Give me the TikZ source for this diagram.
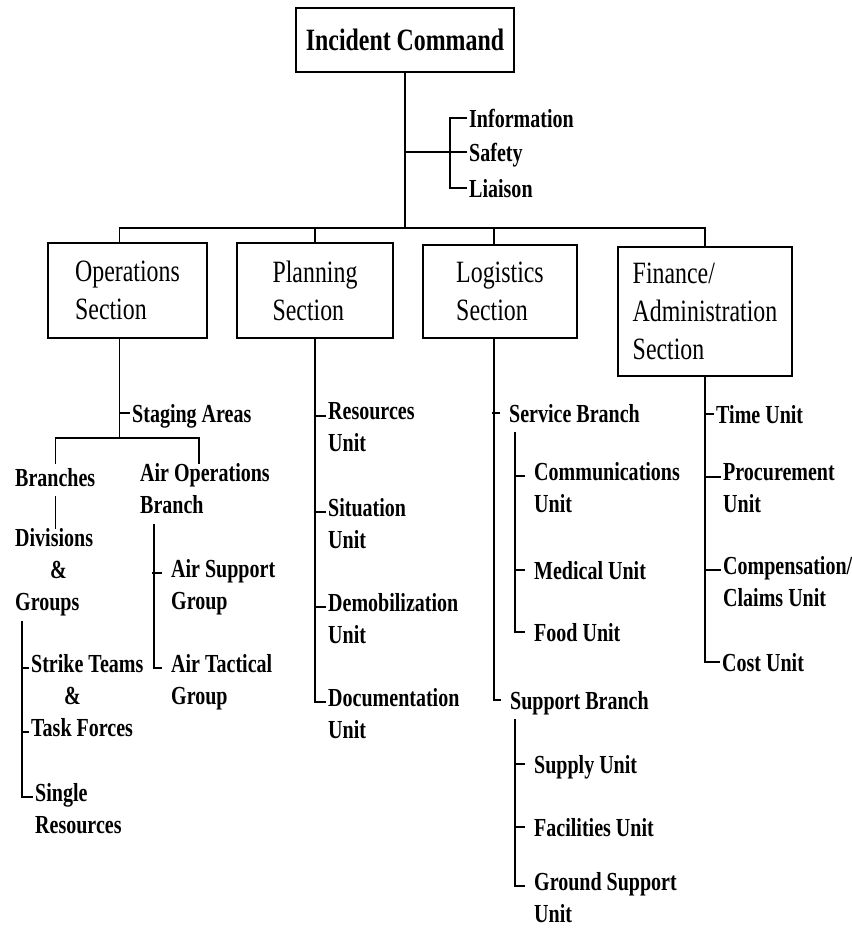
\documentclass[tikz,border=0pt]{standalone}
\usepackage{fontspec}
\setmainfont{Liberation Serif}[FakeStretch=0.77]
\usepackage{tikz}

% tick point at the middle of a label's first line
\newcommand{\tk}[1]{([yshift=-13.4pt]#1.north west)}

\tikzset{
  con/.style={line width=1.4pt},
  sect/.style={draw, line width=2pt, inner sep=0pt, align=left,
    font=\fontsize{31}{38}\selectfont},
  lbl/.style={anchor=north west, inner xsep=2pt, inner ysep=0pt,
    xshift=-2pt, yshift=13.4pt, align=left,
    font=\fontsize{26}{32}\selectfont\bfseries,
    execute at begin node=\strut, execute at end node=\strut},
  glbl/.style={lbl, inner xsep=9pt, xshift=-9pt}
}

\begin{document}
\begin{tikzpicture}[x=1pt, y=-1pt]
\useasboundingbox (0,0) rectangle (851,936);

% command
\node[sect, font=\fontsize{31}{38}\selectfont\bfseries, minimum width=218pt,
  minimum height=64pt] (ic) at (405,40) {Incident Command};
\coordinate (bus) at (405,228);
\draw[con] (ic.south) -- (bus);

% staff
\node[lbl] (info) at (469,118) {Information};
\node[lbl] (safe) at (469,152) {Safety};
\node[lbl] (liai) at (469,188) {Liaison};
\draw[line width=2pt] \tk{info} -- ++(-17,0) |- \tk{liai};
\draw[con] \tk{safe} -| (ic.south);

% sections
\node[sect, minimum width=159pt, minimum height=95pt] (ops) at (127.5,290.5) {Operations\\Section};
\node[sect, minimum width=156pt, minimum height=95pt] (plan) at (315,290.5) {Planning\\Section};
\node[sect, minimum width=154pt, minimum height=93pt] (log) at (500,291.5) {Logistics\\Section};
\node[sect, minimum width=174pt, minimum height=129pt] (fin) at (705,311.5) {Finance/\\Administration\\Section};
\draw[con] ([xshift=-8pt]ops.north) |- (bus) -| (fin.north);
\draw[con] (plan.north) |- (bus);
\draw[con] ([xshift=-6pt]log.north) |- (bus);

% operations
\node[lbl] (stag) at (132,413) {Staging Areas};
\node[lbl] (brn) at (15,477) {Branches};
\node[lbl] (aob) at (140,477) {Air Operations\\Branch};
\node[lbl] (div) at (15,542) {Divisions\\\hspace*{35pt}\&\\Groups};
\node[glbl] (asg) at (173,573) {Air Support\\Group};
\node[glbl] (atg) at (173,668) {Air Tactical\\Group};
\node[lbl] (stk) at (31,668) {Strike Teams\\\hspace*{33pt}\&\\Task Forces};
\node[lbl] (sing) at (35,797) {Single\\Resources};
\draw[con] ([xshift=-8pt]ops.south) -- ++(0,99) coordinate (sbus);
\draw[con] \tk{stag} -- ++(-10,0);
\draw[con] (brn.north) |- (sbus) -| ([xshift=-6pt]aob.north);
\draw[con] (brn.south) -- (brn.south |- div.north);
\draw[con] ([xshift=9pt]div.south west) |- \tk{sing};
\draw[con] \tk{stk} -- ++(-7,0);
\draw[con] ([yshift=-77.4pt]stk.north west) -- ++(-7,0);
\draw[con] ([xshift=16pt]aob.south west) |- \tk{atg};
\draw[con] \tk{asg} -- ++(-10,0);

% planning
\node[lbl] (res) at (328,416) {Resources\\Unit};
\node[lbl] (sit) at (328,512) {Situation\\Unit};
\node[lbl] (dem) at (328,607) {Demobilization\\Unit};
\node[lbl] (doc) at (328,702) {Documentation\\Unit};
\draw[con] (plan.south) |- \tk{doc};
\foreach \n in {res,sit,dem}
  \draw[con] \tk{\n} -- ++(-11,0);

% logistics
\node[glbl] (svc) at (511,413) {Service Branch};
\node[glbl] (comm) at (536,476) {Communications\\Unit};
\node[glbl] (med) at (536,570) {Medical Unit};
\node[glbl] (food) at (536,632) {Food Unit};
\node[glbl] (sup) at (512,700) {Support Branch};
\node[glbl] (supl) at (536,764) {Supply Unit};
\node[glbl] (fac) at (536,827) {Facilities Unit};
\node[glbl] (gnd) at (536,886) {Ground Support\\Unit};
\draw[con] ([xshift=-6pt]log.south) |- \tk{sup};
\draw[con] \tk{svc} -- ++(-8,0);
\draw[con] ([xshift=15pt]svc.south west) |- \tk{food};
\draw[con] ([xshift=14pt]sup.south west) |- \tk{gnd};
\foreach \n in {comm,med,supl,fac}
  \draw[con] \tk{\n} -- ++(-10,0);

% finance
\node[lbl] (time) at (716,414) {Time Unit};
\node[lbl] (proc) at (723,477) {Procurement\\Unit};
\node[lbl] (comp) at (723,570) {Compensation/\\Claims Unit};
\node[lbl] (cost) at (722,662) {Cost Unit};
\draw[con] (fin.south) |- \tk{cost};
\draw[con] \tk{time} -- ++(-9,0);
\foreach \n in {proc,comp}
  \draw[con] \tk{\n} -- ++(-16,0);
\end{tikzpicture}
\end{document}
